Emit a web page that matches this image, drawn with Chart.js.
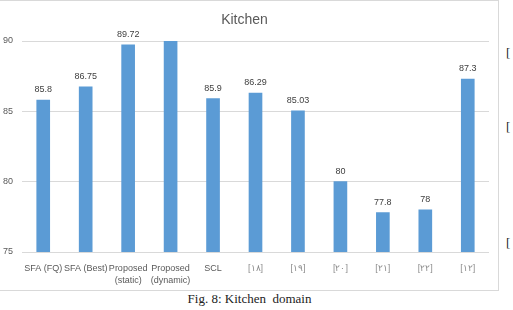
<!DOCTYPE html>
<html>
<head>
<meta charset="utf-8">
<script src="https://cdn.jsdelivr.net/npm/chart.js@4"></script>
<style>
  body { margin: 0; background: #fff; width: 513px; height: 310px; overflow: hidden; position: relative; }
  #frame { position: absolute; left: 0; top: 0; width: 498px; height: 289px; border: 1px solid #d9d9d9; border-left: none; }
  #wrap { position: absolute; left: 0; top: 0; width: 499px; height: 290px; }
  #caption { position: absolute; left: 0; width: 499px; top: 291px; text-align: center; font-family: "Liberation Serif", serif; font-size: 13px; color: #222; white-space: pre; }
  .br { position: absolute; left: 506px; font-family: "Liberation Serif", serif; font-size: 13px; color: #222; }
</style>
</head>
<body>
<div id="frame"></div>
<div id="wrap"><canvas id="chart" width="499" height="290"></canvas></div>
<div id="caption">Fig. 8: Kitchen  domain</div>
<span class="br" style="top:45px">[</span>
<span class="br" style="top:119px">[</span>
<span class="br" style="top:235px">[</span>
<script>
// ===== Data =====
const categories = [
    'SFA (FQ)', 'SFA (Best)', ['Proposed', '(static)'], ['Proposed', '(dynamic)'], 'SCL',
    '[۱۸]', '[۱۹]', '[۲۰]', '[۲۱]', '[۲۲]', '[۱۲]'
];
const accuracy = [85.8, 86.75, 89.72, 91.2, 85.9, 86.29, 85.03, 80, 77.8, 78, 87.3];
const yTicks = [75, 80, 85, 90];

const yMin = yTicks[0];
const yMax = yTicks[yTicks.length - 1];

// value labels above bars (hidden when the bar runs past the axis top)
const valueLabels = {
    id: 'valueLabels',
    afterDatasetsDraw(chart) {
        const ctx = chart.ctx;
        const meta = chart.getDatasetMeta(0);
        ctx.save();
        ctx.font = '9px "Liberation Sans", Arial, sans-serif';
        ctx.fillStyle = '#404040';
        ctx.textAlign = 'center';
        ctx.textBaseline = 'bottom';
        meta.data.forEach((bar, i) => {
            const v = accuracy[i];
            if (v > yMax) return;
            ctx.fillText(String(v), bar.x, bar.y - 6);
        });
        ctx.restore();
    }
};

const ctx = document.getElementById('chart');
new Chart(ctx, {
    type: 'bar',
    data: {
        labels: categories,
        datasets: [{
            data: accuracy,
            backgroundColor: '#5b9bd5',
            borderWidth: 0,
            barThickness: 13
        }]
    },
    options: {
        responsive: false,
        animation: false,
        events: [],
        layout: { padding: { left: 0, right: 10, top: 0, bottom: 0 } },
        plugins: {
            legend: { display: false },
            tooltip: { enabled: false },
            title: {
                display: true,
                text: 'Kitchen',
                color: '#595959',
                font: { family: '"Liberation Sans", Arial, sans-serif', size: 14, weight: 'normal', lineHeight: 1.2 },
                padding: { top: 12, bottom: 12.2 }
            }
        },
        scales: {
            x: {
                grid: { display: false },
                border: { display: false },
                ticks: {
                    color: (c) => c.index >= 5 ? '#8c8c8c' : '#595959',
                    font: { family: '"Liberation Sans", Arial, sans-serif', size: 9, lineHeight: 1.35 },
                    padding: 2,
                    maxRotation: 0,
                    autoSkip: false
                },
                afterFit: (scale) => { scale.height = 38; }
            },
            y: {
                min: yMin,
                max: yMax,
                grid: { color: '#d9d9d9', drawTicks: false },
                border: { display: false },
                afterBuildTicks: (scale) => { scale.ticks = yTicks.map(v => ({ value: v })); },
                ticks: {
                    color: '#595959',
                    font: { family: '"Liberation Sans", Arial, sans-serif', size: 9 },
                    padding: 9
                },
                afterFit: (scale) => { scale.width = 22; }
            }
        }
    },
    plugins: [valueLabels]
});
</script>
</body>
</html>
